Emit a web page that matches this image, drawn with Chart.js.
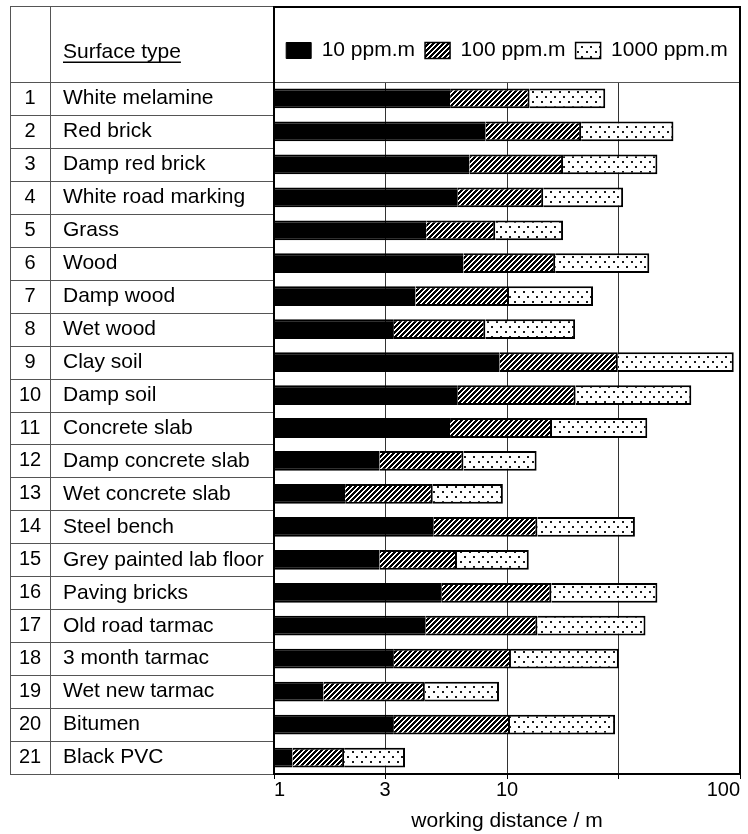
<!DOCTYPE html>
<html>
<head>
<meta charset="utf-8">
<title>Working distance by surface type</title>
<script src="https://cdn.jsdelivr.net/npm/chart.js@4.4.1/dist/chart.umd.min.js"></script>
<style>
  html, body { margin: 0; padding: 0; background: #fff; }
  #wrap { position: relative; width: 748px; height: 834px; }
</style>
</head>
<body>
<div id="wrap"><canvas id="distanceChart" width="748" height="834"></canvas></div>
<script>
const surfaceNumbers = ['1', '2', '3', '4', '5', '6', '7', '8', '9', '10', '11',
  '12', '13', '14', '15', '16', '17', '18', '19', '20', '21'];
const surfaceTypes = [
  'White melamine', 'Red brick', 'Damp red brick', 'White road marking', 'Grass',
  'Wood', 'Damp wood', 'Wet wood', 'Clay soil', 'Damp soil', 'Concrete slab',
  'Damp concrete slab', 'Wet concrete slab', 'Steel bench', 'Grey painted lab floor',
  'Paving bricks', 'Old road tarmac', '3 month tarmac', 'Wet new tarmac', 'Bitumen',
  'Black PVC'
];

// working distance (m) reached at each concentration-pathlength
const reach10ppm = [5.7, 8.1, 6.9, 6.15, 4.5, 6.5, 4.05, 3.27, 9.3, 6.15, 5.7,
  2.84, 2.02, 4.85, 2.84, 5.25, 4.48, 3.27, 1.63, 3.27, 1.2];
const reach100ppm = [12.5, 20.8, 17.4, 14.3, 8.9, 16.1, 10.2, 8.07, 29.9, 19.7, 15.6,
  6.5, 4.8, 13.5, 6.1, 15.5, 13.5, 10.4, 4.44, 10.3, 2.0];
const reach1000ppm = [26.4, 51.8, 44.2, 31.5, 17.4, 40.8, 23.4, 19.6, 94, 61.8, 40.0,
  13.4, 9.6, 35.4, 12.4, 44.2, 39.3, 30.2, 9.24, 29.1, 3.65];

const seriesLabels = ['10 ppm.m', '100 ppm.m', '1000 ppm.m'];
const xGridValues = [1, 3, 10, 30, 100];
const xTickLabels = ['1', '3', '10', '', '100'];

const fontFamily = '"Liberation Sans", Arial, Helvetica, sans-serif';
const canvas = document.getElementById('distanceChart');
const ctx2d = canvas.getContext('2d');

const makePattern = (width, height, paint) => {
  const tile = document.createElement('canvas');
  tile.width = width;
  tile.height = height;
  const g = tile.getContext('2d');
  g.fillStyle = '#fff';
  g.fillRect(0, 0, width, height);
  paint(g);
  return ctx2d.createPattern(tile, 'repeat');
};

// forward-slash hatching, 5px repeat, drawn pixel by pixel so it stays crisp
const hatchFill = makePattern(5, 5, g => {
  g.fillStyle = '#000';
  for (let x = 0; x < 5; x++) {
    for (let y = 0; y < 5; y++) {
      if ((x + y) % 5 < 3) g.fillRect(x, y, 1, 1);
    }
  }
});

// staggered dot screen
const dotFill = makePattern(9, 10, g => {
  g.fillStyle = '#1a1a1a';
  g.fillRect(1, 1, 2, 2);
  g.fillRect(5, 6, 2, 2);
});

// left-hand table: numbers, surface names, row rules and the framed plot box
const surfaceTable = {
  id: 'surfaceTable',
  afterDraw(chart) {
    const { ctx, chartArea: area, scales: { y } } = chart;
    const tableLeft = 10;
    const numberRight = 50;
    const tableTop = 6;
    const band = y.getPixelForValue(1) - y.getPixelForValue(0);

    ctx.save();
    ctx.strokeStyle = '#555';
    ctx.lineWidth = 1;
    ctx.beginPath();
    ctx.moveTo(tableLeft, tableTop + 0.5);
    ctx.lineTo(area.left, tableTop + 0.5);
    ctx.moveTo(tableLeft + 0.5, tableTop);
    ctx.lineTo(tableLeft + 0.5, area.bottom);
    ctx.moveTo(numberRight + 0.5, tableTop);
    ctx.lineTo(numberRight + 0.5, area.bottom);
    ctx.moveTo(tableLeft, Math.round(area.top) + 0.5);
    ctx.lineTo(area.right, Math.round(area.top) + 0.5);
    surfaceTypes.forEach((_, i) => {
      const rule = Math.round(y.getPixelForValue(i) + band / 2) + 0.5;
      ctx.moveTo(tableLeft, rule);
      ctx.lineTo(area.left, rule);
    });
    ctx.stroke();

    ctx.fillStyle = '#000';
    ctx.textBaseline = 'middle';

    ctx.font = `21px ${fontFamily}`;
    ctx.textAlign = 'left';
    ctx.fillText('Surface type', 63, 52);
    const headWidth = ctx.measureText('Surface type').width;
    ctx.fillRect(63, 61.5, headWidth, 1.5);

    surfaceTypes.forEach((name, i) => {
      ctx.fillText(name, 63, y.getPixelForValue(i));
    });

    ctx.font = `20px ${fontFamily}`;
    ctx.textAlign = 'center';
    surfaceNumbers.forEach((num, i) => {
      ctx.fillText(num, 30, y.getPixelForValue(i));
    });

    ctx.strokeStyle = '#000';
    ctx.lineWidth = 2;
    ctx.strokeRect(area.left, tableTop + 1, area.right - area.left, area.bottom - tableTop - 1);
    ctx.restore();
  }
};

const barStyle = {
  xAxisID: 'x',
  yAxisID: 'y',
  grouped: false,
  borderColor: '#000',
  borderSkipped: false,
  barPercentage: 0.6,
  categoryPercentage: 1.0
};

new Chart(canvas, {
  type: 'bar',
  data: {
    labels: surfaceTypes,
    datasets: [
      {
        ...barStyle,
        label: seriesLabels[0],
        data: reach10ppm.map(v => [1, v]),
        backgroundColor: '#000',
        borderWidth: { top: 2, bottom: 2, left: 0, right: 0 },
        order: 0
      },
      {
        ...barStyle,
        label: seriesLabels[1],
        data: reach100ppm.map((v, i) => [reach10ppm[i], v]),
        backgroundColor: hatchFill,
        borderWidth: { top: 2, bottom: 2, left: 0, right: 2 },
        order: 1
      },
      {
        ...barStyle,
        label: seriesLabels[2],
        data: reach1000ppm.map((v, i) => [reach100ppm[i], v]),
        backgroundColor: dotFill,
        borderWidth: { top: 2, bottom: 2, left: 0, right: 2 },
        order: 2
      }
    ]
  },
  options: {
    indexAxis: 'y',
    responsive: false,
    animation: false,
    events: [],
    layout: {
      padding: { left: 274, right: 8, top: 30, bottom: 0 }
    },
    plugins: {
      legend: {
        display: true,
        position: 'top',
        align: 'center',
        labels: {
          boxWidth: 25,
          boxHeight: 16,
          padding: 10,
          color: '#000',
          font: { family: fontFamily, size: 21 }
        }
      },
      tooltip: { enabled: false }
    },
    scales: {
      x: {
        type: 'logarithmic',
        position: 'bottom',
        min: 1,
        max: 100,
        afterBuildTicks: scale => {
          scale.ticks = xGridValues.map(value => ({ value }));
        },
        afterFit: scale => {
          scale.height = 60;
        },
        grid: {
          color: '#333',
          lineWidth: 1,
          drawTicks: true,
          tickLength: 5,
          tickColor: '#000'
        },
        border: { display: true, color: '#000', width: 2 },
        ticks: {
          autoSkip: false,
          maxRotation: 0,
          align: 'inner',
          padding: 1,
          color: '#000',
          font: { family: fontFamily, size: 20, lineHeight: 1 },
          callback: (value, index) => xTickLabels[index]
        },
        title: {
          display: true,
          text: 'working distance / m',
          color: '#000',
          padding: 0,
          font: { family: fontFamily, size: 21 }
        }
      },
      xTop: {
        type: 'linear',
        position: 'top',
        display: true,
        afterFit: scale => {
          scale.height = 11;
        },
        grid: { display: false, drawTicks: false },
        border: { display: false },
        ticks: { display: false }
      },
      y: {
        type: 'category',
        display: false
      }
    }
  },
  plugins: [surfaceTable]
});
</script>
</body>
</html>
